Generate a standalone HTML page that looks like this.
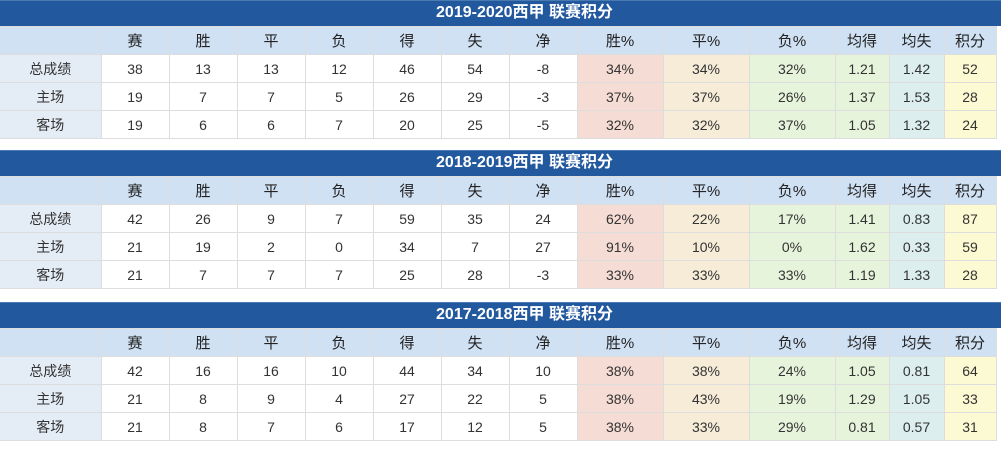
<!DOCTYPE html>
<html><head><meta charset="utf-8"><style>
body{margin:0;width:1001px;height:449px;background:#fff;font-family:"Liberation Sans","Noto Sans CJK SC",sans-serif;overflow:hidden}
.blk{position:absolute;left:0;width:1001px}
.t{height:26px;background:#22589e;border-top:1px solid #4a7bb0;box-sizing:border-box;color:#fff;font-weight:bold;font-size:16px;line-height:24px;text-align:center;padding-left:48px}
table{border-collapse:collapse;table-layout:fixed;width:996px;font-size:14px;color:#333}
td{height:27px;border:1px solid #ddd;text-align:center;padding:0;}
tr.h td{background:#d0e1f4;color:#222;font-size:15px}
td.l{background:#e4ecf6;border-left:none}
tr.h td:first-child{border-left:none}
.a{background:#f5dcd4}.b{background:#f6ecd8}.c{background:#e6f4dc}.d{background:#e6f4dc}.e{background:#dcefee}.f{background:#fcfad2}
</style></head><body>
<div class="blk" style="top:0">
<div class="t">2019-2020西甲 联赛积分</div>
<table><colgroup><col style="width:101px"><col style="width:68px"><col style="width:68px"><col style="width:68px"><col style="width:68px"><col style="width:68px"><col style="width:68px"><col style="width:68px"><col style="width:86px"><col style="width:86px"><col style="width:86px"><col style="width:54px"><col style="width:55px"><col style="width:52px"></colgroup>
<tr class="h"><td></td><td>赛</td><td>胜</td><td>平</td><td>负</td><td>得</td><td>失</td><td>净</td><td>胜%</td><td>平%</td><td>负%</td><td>均得</td><td>均失</td><td>积分</td></tr>
<tr><td class="l">总成绩</td><td>38</td><td>13</td><td>13</td><td>12</td><td>46</td><td>54</td><td>-8</td><td class="a">34%</td><td class="b">34%</td><td class="c">32%</td><td class="d">1.21</td><td class="e">1.42</td><td class="f">52</td></tr>
<tr><td class="l">主场</td><td>19</td><td>7</td><td>7</td><td>5</td><td>26</td><td>29</td><td>-3</td><td class="a">37%</td><td class="b">37%</td><td class="c">26%</td><td class="d">1.37</td><td class="e">1.53</td><td class="f">28</td></tr>
<tr><td class="l">客场</td><td>19</td><td>6</td><td>6</td><td>7</td><td>20</td><td>25</td><td>-5</td><td class="a">32%</td><td class="b">32%</td><td class="c">37%</td><td class="d">1.05</td><td class="e">1.32</td><td class="f">24</td></tr>
</table></div>
<div class="blk" style="top:150px">
<div class="t">2018-2019西甲 联赛积分</div>
<table><colgroup><col style="width:101px"><col style="width:68px"><col style="width:68px"><col style="width:68px"><col style="width:68px"><col style="width:68px"><col style="width:68px"><col style="width:68px"><col style="width:86px"><col style="width:86px"><col style="width:86px"><col style="width:54px"><col style="width:55px"><col style="width:52px"></colgroup>
<tr class="h"><td></td><td>赛</td><td>胜</td><td>平</td><td>负</td><td>得</td><td>失</td><td>净</td><td>胜%</td><td>平%</td><td>负%</td><td>均得</td><td>均失</td><td>积分</td></tr>
<tr><td class="l">总成绩</td><td>42</td><td>26</td><td>9</td><td>7</td><td>59</td><td>35</td><td>24</td><td class="a">62%</td><td class="b">22%</td><td class="c">17%</td><td class="d">1.41</td><td class="e">0.83</td><td class="f">87</td></tr>
<tr><td class="l">主场</td><td>21</td><td>19</td><td>2</td><td>0</td><td>34</td><td>7</td><td>27</td><td class="a">91%</td><td class="b">10%</td><td class="c">0%</td><td class="d">1.62</td><td class="e">0.33</td><td class="f">59</td></tr>
<tr><td class="l">客场</td><td>21</td><td>7</td><td>7</td><td>7</td><td>25</td><td>28</td><td>-3</td><td class="a">33%</td><td class="b">33%</td><td class="c">33%</td><td class="d">1.19</td><td class="e">1.33</td><td class="f">28</td></tr>
</table></div>
<div class="blk" style="top:302px">
<div class="t">2017-2018西甲 联赛积分</div>
<table><colgroup><col style="width:101px"><col style="width:68px"><col style="width:68px"><col style="width:68px"><col style="width:68px"><col style="width:68px"><col style="width:68px"><col style="width:68px"><col style="width:86px"><col style="width:86px"><col style="width:86px"><col style="width:54px"><col style="width:55px"><col style="width:52px"></colgroup>
<tr class="h"><td></td><td>赛</td><td>胜</td><td>平</td><td>负</td><td>得</td><td>失</td><td>净</td><td>胜%</td><td>平%</td><td>负%</td><td>均得</td><td>均失</td><td>积分</td></tr>
<tr><td class="l">总成绩</td><td>42</td><td>16</td><td>16</td><td>10</td><td>44</td><td>34</td><td>10</td><td class="a">38%</td><td class="b">38%</td><td class="c">24%</td><td class="d">1.05</td><td class="e">0.81</td><td class="f">64</td></tr>
<tr><td class="l">主场</td><td>21</td><td>8</td><td>9</td><td>4</td><td>27</td><td>22</td><td>5</td><td class="a">38%</td><td class="b">43%</td><td class="c">19%</td><td class="d">1.29</td><td class="e">1.05</td><td class="f">33</td></tr>
<tr><td class="l">客场</td><td>21</td><td>8</td><td>7</td><td>6</td><td>17</td><td>12</td><td>5</td><td class="a">38%</td><td class="b">33%</td><td class="c">29%</td><td class="d">0.81</td><td class="e">0.57</td><td class="f">31</td></tr>
</table></div>
</body></html>
